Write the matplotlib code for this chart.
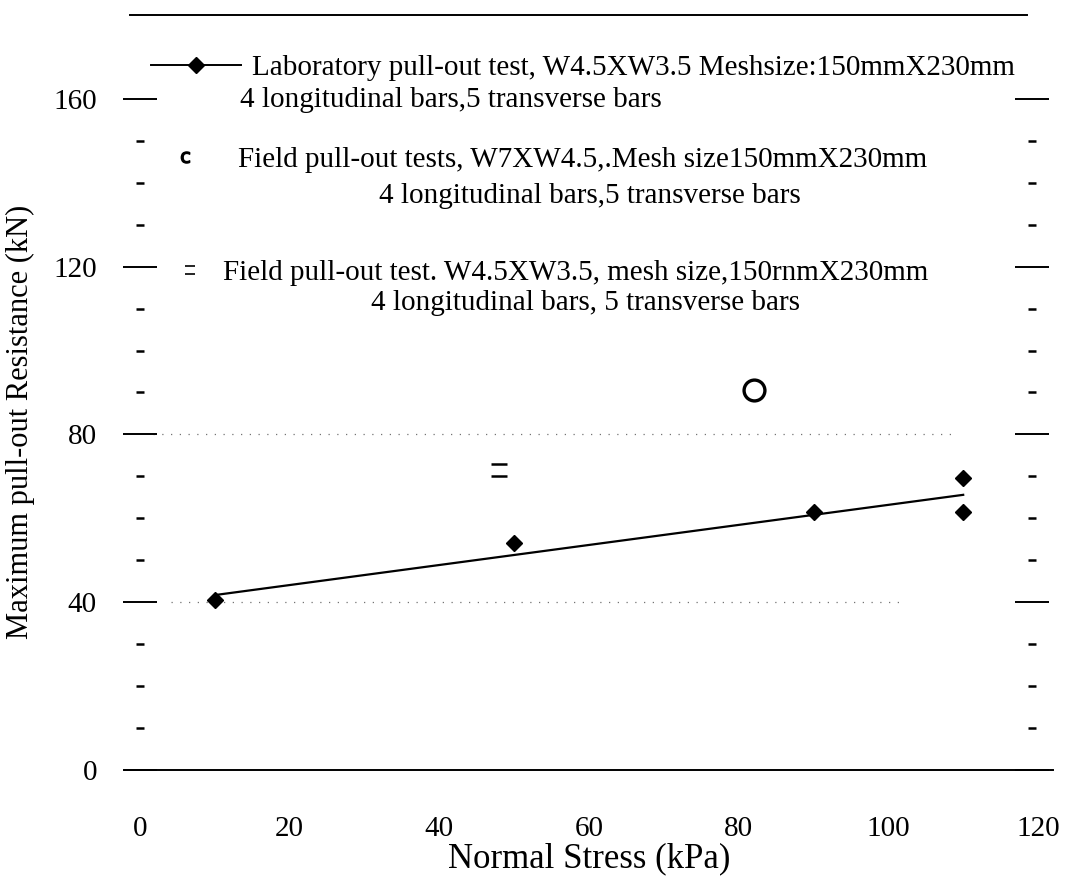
import matplotlib
matplotlib.use("Agg")
import matplotlib.pyplot as plt
from matplotlib.path import Path
from matplotlib.lines import Line2D
from matplotlib.legend import Legend
import numpy as np

plt.rcParams['font.family'] = ['Liberation Serif', 'DejaVu Serif']

# Laboratory pull-out tests (W4.5XW3.5)
lab_stress = [10, 50, 90, 110, 110]
lab_resist = [40.5, 54, 61.5, 69.5, 61.5]

# linear trend through the laboratory results
trend_stress = [10, 110]
trend_resist = [41.7, 65.6]

# Field pull-out tests, W7XW4.5
field1_stress = [82]
field1_resist = [90.5]

# Field pull-out test, W4.5XW3.5
field2_stress = [48]
field2_resist = [71.5]

labels_line1 = [
    "Laboratory pull-out test, W4.5XW3.5 Meshsize:150mmX230mm",
    "Field pull-out tests, W7XW4.5,.Mesh size150mmX230mm",
    "Field pull-out test. W4.5XW3.5, mesh size,150rnmX230mm",
]
labels_line2 = [
    "4 longitudinal bars,5 transverse bars",
    "4 longitudinal bars,5 transverse bars",
    "4 longitudinal bars, 5 transverse bars",
]

xticks = [0, 20, 40, 60, 80, 100, 120]
yticks = [0, 40, 80, 120, 160]

# "=" marker: two short horizontal strokes
eq_marker = Path([(-1, 0.8), (1, 0.8), (-1, -0.8), (1, -0.8)],
                 [Path.MOVETO, Path.LINETO, Path.MOVETO, Path.LINETO])

fig = plt.figure(figsize=(10.83, 8.82), dpi=100)
ax = fig.add_axes([0.1154, 0.127, 0.8569, 0.856])

ax.plot(trend_stress, trend_resist, color='black', lw=1.6, zorder=3)
ax.plot(lab_stress, lab_resist, 'D', color='black', ms=8.5, zorder=4)
ax.plot(field1_stress, field1_resist, 'o', mfc='none', mec='black',
        mew=2.4, ms=15, zorder=4)
ax.plot(field2_stress, field2_resist, marker=eq_marker, ls='none',
        color='black', mew=1.8, ms=11, zorder=4)

ax.set_xlim(-2, 122)
ax.set_ylim(0, 180)

# faint dotted grid lines at 40 and 80 kN
ax.axhline(80, xmin=0.03, xmax=0.89, color='0.45', lw=0.9,
           ls=(0, (1, 6)), zorder=1)
ax.axhline(40, xmin=0.05, xmax=0.84, color='0.45', lw=0.9,
           ls=(0, (1, 6)), zorder=1)

# y ticks sit on hidden spines at x=0 and x~119
ax.spines['left'].set_position(('data', 0))
ax.spines['right'].set_position(('data', 119.2))
for side in ('left', 'right'):
    ax.spines[side].set_visible(False)
ax.spines['bottom'].set_linewidth(1.4)
ax.spines['top'].set_linewidth(1.4)
ax.spines['top'].set_bounds(-1.3, 118.5)

ax.set_xticks(xticks)
ax.set_xticklabels([str(v) for v in xticks], fontsize=21)
ax.tick_params(axis='x', length=0, pad=33)

ax.set_yticks(yticks)
ax.set_yticklabels([str(v) for v in yticks], fontsize=21)
ax.set_yticks(np.arange(10, 160, 10), minor=True)
ax.tick_params(axis='y', which='major', direction='inout', length=24,
               width=1.4, left=True, right=True, pad=19)
ax.tick_params(axis='y', which='minor', direction='inout', length=6,
               width=1.8, left=True, right=True)
ax.yaxis.set_tick_params(labelright=False)

ax.set_xlabel("Normal Stress (kPa)", fontsize=25, labelpad=0)
ax.set_ylabel("Maximum pull-out Resistance (kN)", fontsize=22)
ax.yaxis.set_label_coords(-0.097, 0.461)

# legend: one box per entry so each can sit on its own row
handles = [
    Line2D([], [], color='black', lw=1.4, marker='D', ms=8),
    Line2D([], [], ls='none', marker=r'$\mathrm{c}$', color='black', ms=8),
    Line2D([], [], ls='none', marker=eq_marker, color='black', mew=1.2, ms=7),
]
rows = [(0.028, 0.930), (0.049, 0.808), (0.0544, 0.658)]
hlens = [3.07, 1.0, 1.0]
hpads = [0.41, 1.33, 0.64]
for h, lab, (lx, ly), hl, hp in zip(handles, labels_line1, rows, hlens, hpads):
    leg = Legend(ax, [h], [lab], loc='center left', bbox_to_anchor=(lx, ly),
                 frameon=False, fontsize=21, handlelength=hl,
                 handletextpad=hp, borderpad=0, borderaxespad=0)
    ax.add_artist(leg)

ax.text(0.124, 0.887, labels_line2[0], transform=ax.transAxes,
        fontsize=21, ha='left', va='center')
ax.text(0.501, 0.760, labels_line2[1], transform=ax.transAxes,
        fontsize=21, ha='center', va='center')
ax.text(0.496, 0.619, labels_line2[2], transform=ax.transAxes,
        fontsize=21, ha='center', va='center')

fig.savefig("out.png", dpi=100)
